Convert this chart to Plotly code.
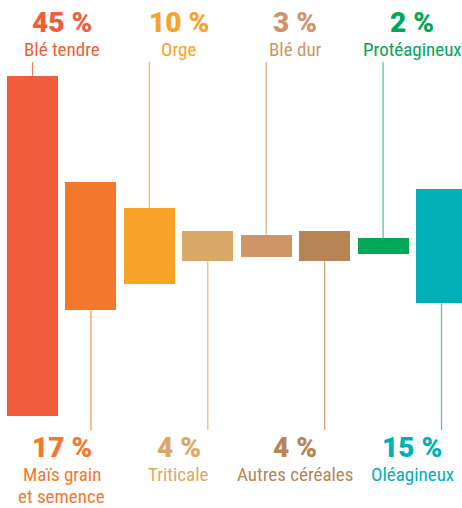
import plotly.graph_objects as go

categories = ["Blé tendre", "Maïs grain<br>et semence", "Orge", "Triticale",
              "Blé dur", "Autres céréales", "Protéagineux", "Oléagineux"]
shares = [45, 17, 10, 4, 3, 4, 2, 15]
colors = ["#F15D3A", "#F3782C", "#F9A229", "#DAA968",
          "#CF9566", "#B78456", "#00A757", "#00B0B7"]
line_colors = ["#F27A5E", "#F5914F", "#F9B552", "#E2B985",
               "#D9A984", "#C59B76", "#4DBE85", "#40C2C8"]

W, H = 462, 508
PX_PER = 7.57          # pixels per percentage point
CENTER_PX = 246        # vertical centre of the bars, from top
PITCH = 58.43          # pixels between bar centres
FIRST_PX = 32.5        # x of first bar centre
FONT = "Roboto, sans-serif"

def ydata(px):
    return (CENTER_PX - px) / PX_PER

def cond(t):
    return f"<span style='font-stretch:condensed'>{t}</span>"

x = list(range(len(shares)))
fig = go.Figure()

# leader lines
for i, v in enumerate(shares):
    if i % 2 == 0:
        ys = [v / 2, ydata(62)]
    else:
        ys = [-v / 2, ydata(430)]
    fig.add_trace(go.Scatter(x=[i, i], y=ys, mode="lines",
                             line=dict(color=line_colors[i], width=1.2),
                             hoverinfo="skip", showlegend=False))

fig.add_trace(go.Bar(x=x, y=shares, base=[-v / 2 for v in shares],
                     width=51 / PITCH, marker=dict(color=colors, line=dict(width=0)),
                     showlegend=False, hoverinfo="skip"))

for i, (name, v) in enumerate(zip(categories, shares)):
    top = i % 2 == 0
    lx = i + 0.5 if top else i - 0.5
    pct_px = 22 if top else 447
    fig.add_annotation(x=lx, y=ydata(pct_px), xref="x", yref="y",
                       text=f"{v} %", showarrow=False,
                       font=dict(family=FONT, size=28, weight=900, color=colors[i]),
                       xanchor="center", yanchor="middle")
    lines = name.split("<br>")
    name_px = 49 if top else 474
    for k, ln in enumerate(lines):
        fig.add_annotation(x=lx, y=ydata(name_px + 22 * k), xref="x", yref="y",
                           text=cond(ln), showarrow=False,
                           font=dict(family=FONT, size=19, color=colors[i]),
                           xanchor="center", yanchor="middle")

fig.update_layout(
    width=W, height=H,
    margin=dict(l=0, r=0, t=0, b=0),
    paper_bgcolor="white", plot_bgcolor="white",
    xaxis=dict(range=[-FIRST_PX / PITCH, (W - FIRST_PX) / PITCH],
               visible=False, fixedrange=True),
    yaxis=dict(range=[ydata(H), ydata(0)], visible=False, fixedrange=True),
    bargap=0,
)

fig.write_html("out.html", config={"displayModeBar": False},
               post_script="document.body.style.margin='0';")
